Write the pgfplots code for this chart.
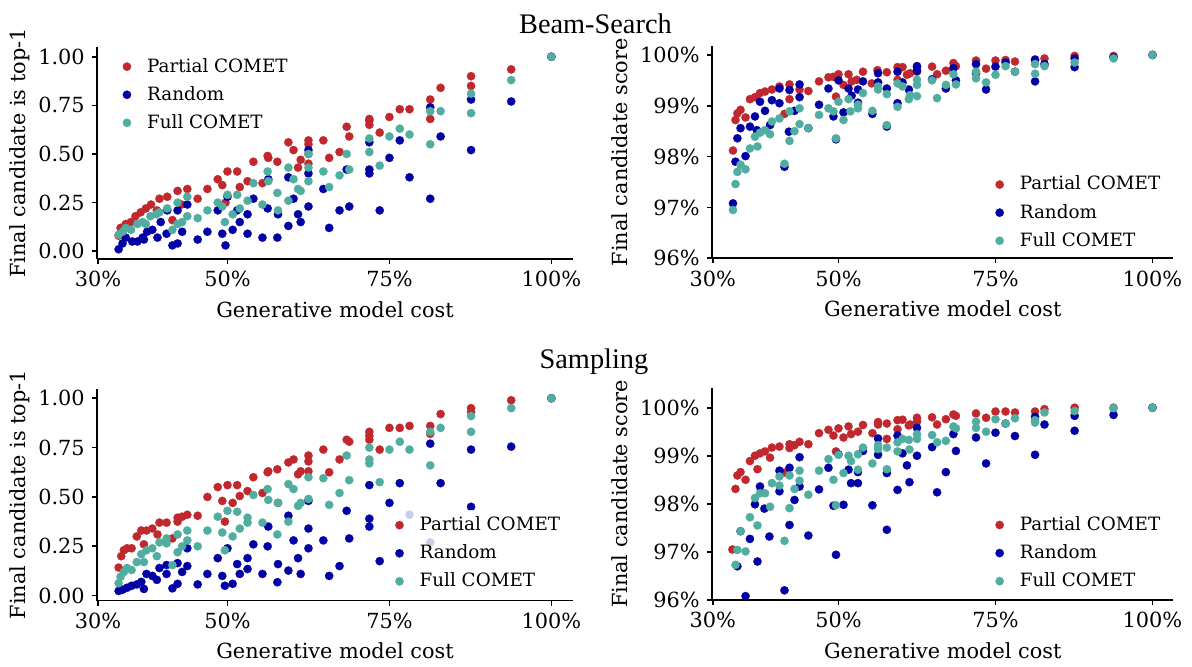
\documentclass[border=0pt]{standalone}
\usepackage{fontspec}
\setmainfont{DejaVu Serif}
\newfontfamily\titlefont{Liberation Serif}
\usepackage{pgfplots}
\pgfplotsset{compat=1.18}
\definecolor{cred}{RGB}{192,40,46}
\definecolor{cblue}{RGB}{0,0,165}
\definecolor{cteal}{RGB}{80,173,159}
\pgfplotsset{
  panel/.style={
    scale only axis, height=101.76pt,
    axis lines*=left,
    xmin=29.86, xmax=103.34,
    xtick={30,50,75,100}, xticklabels={30\%,50\%,75\%,100\%},
    tick align=outside, major tick length=2.4pt,
    every tick/.append style={black, line width=0.8pt},
    axis line style={line width=0.8pt},
    tick label style={font=\fontsize{10}{12}\selectfont},
    label style={font=\fontsize{10}{12}\selectfont},
    xlabel={Generative model cost},
    legend cell align=left,
    legend style={draw=none, fill=white, fill opacity=0.8, text opacity=1,
      font=\fontsize{8.8}{10.5}\selectfont, row sep=1.3pt, inner sep=1pt},
    legend image code/.code={\path[draw=none,fill=none] (0cm,0cm) rectangle (0.42cm,0.01cm);
      \path[#1,opacity=1,draw=none] plot coordinates {(0.15cm,0cm)};},
  },
  leftp/.style={panel, width=228.48pt, ylabel shift=-2.8pt},
  rightp/.style={panel, width=221.5pt, ylabel shift=-1pt},
  top1/.style={ytick={0,0.25,0.5,0.75,1}, yticklabels={0.00,0.25,0.50,0.75,1.00}, ylabel={Final candidate is top-1}},
  score/.style={ytick={96,97,98,99,100}, yticklabels={96\%,97\%,98\%,99\%,100\%}, ylabel={Final candidate score}},
  sred/.style={only marks, mark=*, mark size=2pt, mark options={fill=cred, draw=cred, line width=0.1pt}},
  sblue/.style={only marks, mark=*, mark size=2pt, mark options={fill=cblue, draw=cblue, line width=0.1pt}},
  steal/.style={only marks, mark=*, mark size=2pt, mark options={fill=cteal, draw=cteal, line width=0.1pt}},
}
\begin{document}
\begin{tikzpicture}
\path[use as bounding box] (0,0) rectangle (572.16pt,319.68pt);
\node[anchor=base, font=\titlefont\fontsize{13.6}{15}\selectfont] at (285.8pt,303.8pt) {Beam-Search};
\node[anchor=base, font=\titlefont\fontsize{13.6}{15}\selectfont] at (285.1pt,142.9pt) {Sampling};

% Panel 1
\begin{axis}[leftp, top1, at={(46.56pt,195.36pt)}, anchor=south west, ymin=-0.04, ymax=1.05,
  legend style={at={(0.039,0.979)}, anchor=north west}]
\addplot[sred] coordinates {(33.2,0.08)(33.5,0.12)(34.3,0.14)(35.1,0.15)(35.8,0.18)(36.6,0.20)(37.4,0.22)(38.2,0.24)(39.1,0.21)(39.5,0.27)(40.7,0.28)(41.5,0.16)(42.3,0.31)(42.9,0.24)(43.8,0.32)(45.4,0.27)(46.9,0.32)(48.5,0.37)(49.2,0.34)(49.7,0.25)(50.0,0.41)(51.5,0.41)(51.9,0.33)(53.1,0.36)(54.0,0.46)(55.4,0.35)(56.2,0.49)(56.3,0.48)(57.7,0.46)(59.4,0.56)(60.2,0.52)(60.9,0.43)(61.3,0.47)(62.5,0.57)(62.5,0.55)(62.5,0.50)(62.5,0.45)(64.8,0.57)(65.7,0.48)(67.3,0.51)(68.4,0.64)(68.8,0.59)(71.9,0.68)(71.9,0.67)(71.9,0.65)(73.5,0.61)(75.0,0.69)(76.6,0.73)(78.1,0.73)(81.3,0.78)(81.3,0.68)(82.9,0.84)(87.6,0.90)(87.6,0.85)(93.8,0.935)(100,1.0)};
\addlegendentry{Partial COMET}
\addplot[sblue] coordinates {(33.2,0.01)(33.8,0.04)(34.3,0.07)(35.3,0.05)(36.1,0.05)(36.9,0.07)(37.1,0.06)(37.6,0.10)(38.4,0.11)(39.2,0.07)(39.7,0.15)(40.6,0.09)(40.7,0.21)(41.5,0.03)(42.3,0.04)(42.3,0.21)(43.0,0.10)(43.8,0.24)(45.4,0.06)(46.9,0.10)(48.5,0.21)(49.2,0.09)(49.7,0.03)(50.0,0.28)(50.8,0.11)(51.5,0.21)(51.9,0.15)(53.1,0.19)(53.1,0.09)(54.0,0.27)(55.4,0.07)(56.2,0.22)(56.3,0.37)(57.7,0.07)(57.8,0.19)(59.4,0.38)(59.4,0.13)(60.2,0.27)(60.9,0.19)(61.3,0.15)(62.5,0.52)(62.5,0.40)(62.5,0.23)(64.8,0.32)(65.7,0.12)(67.3,0.21)(68.4,0.42)(68.8,0.23)(71.9,0.56)(71.9,0.42)(71.9,0.40)(73.5,0.21)(75.0,0.48)(76.6,0.57)(78.1,0.38)(81.3,0.74)(81.3,0.27)(82.9,0.59)(87.6,0.78)(87.6,0.52)(93.8,0.77)(100,1.0)};
\addlegendentry{Random}
\addplot[steal] coordinates {(33.2,0.085)(33.8,0.10)(34.3,0.12)(35.1,0.11)(36.1,0.14)(36.9,0.15)(37.4,0.14)(38.1,0.18)(39.0,0.19)(39.5,0.20)(40.7,0.22)(41.5,0.11)(42.3,0.25)(42.3,0.14)(43.0,0.15)(43.8,0.28)(43.8,0.18)(45.4,0.17)(46.9,0.21)(48.5,0.25)(49.2,0.23)(49.6,0.15)(50.0,0.29)(50.8,0.19)(51.5,0.29)(51.9,0.22)(53.1,0.26)(54.0,0.35)(55.4,0.24)(56.2,0.41)(56.3,0.36)(57.7,0.30)(57.8,0.21)(59.4,0.43)(59.4,0.26)(60.2,0.37)(60.9,0.32)(61.3,0.31)(62.5,0.50)(62.5,0.43)(62.5,0.36)(64.8,0.41)(65.7,0.33)(67.3,0.39)(68.4,0.50)(68.8,0.42)(71.9,0.58)(71.9,0.51)(73.5,0.44)(75.0,0.59)(76.6,0.63)(78.1,0.60)(81.3,0.72)(81.3,0.55)(82.9,0.72)(87.6,0.81)(87.6,0.71)(93.8,0.88)(100,1.0)};
\addlegendentry{Full COMET}
\end{axis}

% Panel 2
\begin{axis}[rightp, score, at={(341.76pt,195.7pt)}, anchor=south west, ymin=96, ymax=100.17,
  legend style={at={(0.986,0.011)}, anchor=south east}]
\addplot[sred] coordinates {(33.2,98.12)(33.6,98.72)(33.9,98.85)(34.4,98.92)(35.2,98.77)(35.9,99.13)(36.7,99.17)(37.5,99.25)(38.3,99.28)(39.4,99.32)(40.6,99.38)(41.4,98.84)(42.2,99.42)(42.2,99.13)(43.8,99.32)(45.2,99.29)(46.9,99.48)(48.4,99.56)(49.2,99.57)(49.6,99.18)(50.0,99.62)(50.8,99.41)(51.6,99.62)(52.1,99.48)(52.9,99.51)(53.9,99.67)(55.3,99.44)(56.2,99.70)(57.7,99.66)(59.4,99.76)(60.2,99.76)(59.4,99.51)(60.9,99.61)(61.4,99.64)(62.5,99.67)(62.5,99.76)(64.9,99.77)(65.7,99.62)(67.1,99.69)(68.3,99.84)(68.7,99.78)(71.9,99.89)(73.5,99.73)(75.0,99.89)(76.6,99.90)(78.1,99.87)(81.3,99.89)(82.8,99.93)(87.6,99.98)(93.8,99.98)(100,100)};
\addlegendentry{Partial COMET}
\addplot[sblue] coordinates {(33.2,97.08)(33.6,97.90)(33.9,98.36)(34.4,98.56)(35.2,98.01)(35.9,98.59)(36.7,98.79)(37.0,98.52)(37.5,99.08)(38.3,98.90)(39.1,98.62)(39.4,99.11)(40.6,99.34)(40.6,99.05)(41.4,97.80)(42.1,98.49)(42.2,99.31)(43.0,98.90)(43.8,99.42)(43.8,99.17)(45.2,98.56)(46.9,99.02)(48.4,99.34)(49.2,98.79)(49.6,98.34)(50.0,99.50)(50.8,98.87)(51.6,99.34)(52.1,99.20)(53.1,99.32)(53.1,99.06)(53.9,99.48)(55.4,98.84)(56.3,99.64)(56.3,99.46)(57.7,99.34)(57.7,98.59)(59.4,99.67)(59.4,99.05)(60.2,99.46)(61.2,99.32)(62.5,99.78)(62.5,99.69)(64.9,99.52)(67.1,99.34)(68.3,99.74)(68.7,99.50)(71.9,99.82)(71.9,99.64)(73.5,99.32)(75.0,99.77)(76.6,99.85)(78.1,99.67)(81.3,99.91)(81.3,99.48)(82.8,99.82)(87.6,99.93)(87.6,99.76)(93.8,99.95)(100,100)};
\addlegendentry{Random}
\addplot[steal] coordinates {(33.2,96.95)(33.6,97.46)(33.9,97.70)(34.4,97.84)(35.2,97.75)(35.9,98.16)(36.7,98.39)(37.1,98.20)(37.5,98.47)(38.3,98.52)(39.1,98.44)(39.4,98.69)(40.6,98.75)(41.4,97.86)(42.2,98.89)(42.2,98.31)(43.0,98.50)(43.8,98.95)(43.8,98.64)(45.2,98.56)(46.9,98.82)(48.4,98.95)(49.2,98.89)(49.6,98.36)(50.0,99.08)(50.8,98.72)(51.6,99.13)(51.9,98.89)(53.1,99.02)(53.1,98.95)(53.9,99.25)(55.4,98.90)(56.3,99.32)(56.3,99.38)(57.7,99.23)(57.7,98.62)(59.4,99.44)(59.4,98.98)(60.2,99.38)(61.2,99.13)(61.4,99.21)(62.5,99.51)(62.5,99.41)(62.5,99.19)(64.9,99.50)(65.7,99.15)(67.1,99.41)(68.3,99.62)(68.7,99.42)(71.9,99.67)(71.9,99.54)(73.5,99.46)(75.0,99.61)(76.6,99.78)(78.1,99.67)(81.3,99.82)(81.3,99.63)(82.8,99.78)(87.6,99.85)(93.8,99.93)(100,100)};
\addlegendentry{Full COMET}
\end{axis}

% Panel 3
\begin{axis}[leftp, top1, at={(46.56pt,31.4pt)}, anchor=south west, ymin=-0.025, ymax=1.049,
  legend style={at={(0.987,0.019)}, anchor=south east}]
\addplot[sred] coordinates {(33.2,0.142)(33.6,0.20)(34.0,0.23)(34.5,0.24)(35.2,0.24)(36.0,0.30)(36.7,0.33)(37.1,0.26)(37.5,0.33)(38.4,0.34)(39.2,0.31)(39.5,0.37)(40.6,0.37)(41.5,0.29)(42.3,0.375)(42.3,0.395)(43.0,0.40)(43.8,0.41)(45.4,0.405)(46.9,0.50)(48.5,0.55)(49.2,0.48)(49.6,0.375)(50.0,0.56)(50.8,0.47)(51.5,0.56)(51.9,0.505)(53.1,0.53)(54.0,0.60)(55.4,0.52)(56.2,0.625)(56.3,0.63)(57.7,0.64)(57.8,0.47)(59.4,0.675)(60.2,0.69)(60.9,0.615)(61.3,0.63)(62.5,0.71)(62.5,0.68)(62.5,0.63)(64.8,0.74)(65.7,0.625)(67.3,0.69)(68.4,0.79)(68.8,0.78)(71.9,0.83)(71.9,0.81)(71.9,0.79)(73.5,0.74)(75.0,0.85)(76.6,0.85)(78.1,0.86)(81.3,0.86)(81.3,0.82)(82.9,0.92)(87.6,0.95)(87.6,0.93)(93.8,0.99)(100,1.0)};
\addlegendentry{Partial COMET}
\addplot[sblue] coordinates {(33.2,0.024)(33.8,0.03)(34.5,0.04)(35.2,0.05)(36.0,0.057)(36.7,0.07)(37.1,0.034)(37.5,0.11)(38.4,0.10)(39.1,0.08)(39.5,0.14)(40.6,0.155)(40.6,0.11)(41.5,0.037)(42.3,0.06)(42.3,0.165)(43.0,0.12)(43.8,0.15)(43.8,0.24)(45.4,0.057)(46.9,0.11)(48.5,0.19)(49.2,0.10)(49.6,0.05)(50.0,0.24)(50.8,0.06)(51.5,0.16)(51.9,0.11)(53.1,0.19)(53.1,0.135)(54.0,0.26)(55.4,0.11)(56.2,0.25)(56.3,0.35)(57.7,0.068)(57.8,0.16)(59.4,0.405)(59.4,0.127)(60.2,0.28)(60.9,0.19)(61.3,0.11)(62.5,0.48)(62.5,0.34)(62.5,0.24)(64.8,0.28)(65.7,0.10)(67.3,0.15)(68.4,0.43)(68.8,0.29)(71.9,0.56)(71.9,0.39)(71.9,0.35)(73.5,0.175)(75.0,0.47)(76.6,0.57)(78.1,0.41)(81.3,0.77)(81.3,0.27)(82.9,0.57)(87.6,0.74)(87.6,0.45)(93.8,0.755)(100,1.0)};
\addlegendentry{Random}
\addplot[steal] coordinates {(33.2,0.063)(33.5,0.096)(34.0,0.12)(34.5,0.14)(35.2,0.13)(36.0,0.17)(36.7,0.21)(37.1,0.17)(37.5,0.23)(38.4,0.24)(39.1,0.20)(39.5,0.27)(40.6,0.265)(40.6,0.29)(41.5,0.155)(42.3,0.22)(42.3,0.31)(43.0,0.25)(43.8,0.28)(43.8,0.33)(45.4,0.25)(46.9,0.33)(48.5,0.40)(49.2,0.32)(49.6,0.23)(50.0,0.43)(50.8,0.30)(51.5,0.425)(51.9,0.34)(53.1,0.395)(53.1,0.37)(54.0,0.51)(55.4,0.37)(56.2,0.54)(56.3,0.485)(57.7,0.31)(57.8,0.47)(59.4,0.565)(59.4,0.375)(60.2,0.54)(60.9,0.455)(61.3,0.47)(62.5,0.60)(62.5,0.49)(64.8,0.595)(65.7,0.46)(67.3,0.52)(68.4,0.71)(68.8,0.585)(71.9,0.75)(71.9,0.69)(71.9,0.67)(73.5,0.575)(75.0,0.74)(76.6,0.78)(78.1,0.74)(81.3,0.83)(81.3,0.66)(82.9,0.85)(87.6,0.91)(87.6,0.83)(93.8,0.95)(100,1.0)};
\addlegendentry{Full COMET}
\end{axis}

% Panel 4
\begin{axis}[rightp, score, at={(341.76pt,31.7pt)}, anchor=south west, ymin=96, ymax=100.41,
  legend style={at={(0.986,0.017)}, anchor=south east}]
\addplot[sred] coordinates {(33.1,97.05)(33.6,98.31)(33.9,98.59)(34.4,98.66)(35.2,98.50)(35.9,98.89)(36.7,99.0)(37.5,99.05)(38.3,99.09)(37.1,98.72)(39.1,98.96)(39.4,99.17)(40.6,99.19)(41.4,98.65)(42.2,99.24)(42.2,99.16)(43.0,99.22)(43.8,99.29)(45.2,99.24)(46.9,99.47)(48.4,99.54)(49.2,99.42)(49.6,99.09)(50.0,99.57)(50.8,99.38)(51.6,99.61)(52.0,99.45)(53.1,99.50)(53.9,99.64)(55.4,99.47)(56.3,99.70)(56.3,99.65)(57.7,99.67)(57.7,99.35)(59.4,99.74)(59.4,99.55)(60.2,99.75)(61.2,99.63)(61.4,99.65)(62.5,99.79)(62.5,99.71)(64.9,99.80)(65.7,99.65)(67.1,99.76)(68.3,99.86)(68.7,99.83)(71.9,99.88)(73.5,99.79)(75.0,99.92)(76.6,99.92)(78.1,99.90)(81.3,99.92)(82.8,99.97)(87.6,100.0)(93.8,100.0)(100,100)};
\addlegendentry{Partial COMET}
\addplot[sblue] coordinates {(35.2,96.08)(33.9,96.70)(37.1,96.80)(35.9,97.27)(34.4,97.43)(39.0,97.32)(41.4,96.20)(42.2,97.56)(45.2,97.34)(49.6,96.94)(57.7,97.46)(36.7,97.99)(37.5,98.36)(38.2,97.90)(40.6,98.26)(40.6,98.69)(42.2,98.75)(43.0,98.08)(43.8,98.97)(43.8,98.36)(46.9,98.30)(48.4,98.75)(49.2,97.96)(50.0,99.03)(50.8,97.98)(51.6,98.71)(52.0,98.43)(53.1,98.66)(53.1,98.43)(53.9,99.10)(55.4,97.97)(56.3,99.36)(56.3,99.02)(57.7,98.64)(59.4,99.42)(59.4,98.29)(60.2,99.05)(60.9,98.80)(61.3,98.45)(62.5,99.58)(62.5,99.0)(64.9,99.18)(65.7,98.24)(67.1,98.66)(68.3,99.45)(68.7,99.10)(71.9,99.38)(73.5,98.84)(75.0,99.48)(76.6,99.67)(78.1,99.41)(81.3,99.81)(81.3,99.02)(82.8,99.65)(87.6,99.83)(87.6,99.52)(93.8,99.85)(100,100)};
\addlegendentry{Random}
\addplot[steal] coordinates {(33.6,96.73)(33.9,97.04)(34.4,97.43)(35.2,97.01)(35.9,97.72)(36.7,98.12)(37.1,97.55)(37.5,98.22)(38.3,98.22)(39.1,97.94)(39.4,98.43)(40.6,98.38)(40.6,98.57)(41.4,97.23)(42.2,98.59)(42.2,97.91)(43.0,98.31)(43.8,98.69)(43.8,98.48)(45.2,98.19)(46.9,98.69)(48.4,98.93)(49.2,98.50)(49.6,97.97)(50.0,99.02)(50.8,98.64)(51.6,99.0)(52.0,98.89)(53.1,99.03)(53.1,98.71)(53.9,99.17)(55.4,98.84)(56.3,99.22)(56.3,99.14)(57.7,99.17)(57.7,98.72)(59.4,99.28)(59.4,99.09)(60.2,99.35)(61.2,99.33)(61.3,99.13)(62.5,99.45)(62.5,99.35)(64.9,99.43)(65.7,99.28)(67.1,99.31)(68.3,99.61)(68.7,99.57)(71.9,99.71)(71.9,99.58)(73.5,99.50)(75.0,99.76)(76.6,99.67)(78.1,99.78)(81.3,99.74)(81.3,99.69)(82.8,99.90)(87.6,99.93)(93.8,99.99)(100,100)};
\addlegendentry{Full COMET}
\end{axis}
\end{tikzpicture}
\end{document}
